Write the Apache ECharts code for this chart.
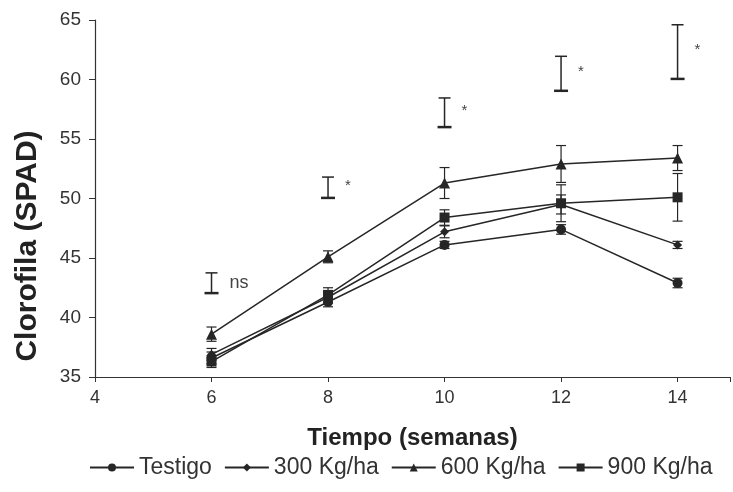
<!doctype html>
<html>
<head>
<meta charset="utf-8">
<title>Clorofila</title>
<script src="https://cdn.jsdelivr.net/npm/echarts@6/dist/echarts.min.js"></script>
<style>
  html, body { margin: 0; padding: 0; background: #fff; }
  #chart { width: 733px; height: 492px; }
</style>
</head>
<body>
<div id="chart"></div>
<script>
// semanas
var weeks = [6, 8, 10, 12, 14];
// valores SPAD por tratamiento
var testigo = [36.6, 41.3, 46.1, 47.4, 42.9];
var kg300 = [36.9, 41.7, 47.2, 49.5, 46.1];
var kg600 = [38.6, 45.1, 51.3, 52.9, 53.4];
var kg900 = [36.3, 41.9, 48.4, 49.6, 50.1];
// error estandar
var testigoErr = [0.5, 0.4, 0.3, 0.4, 0.4];
var kg300Err = [0.5, 0.5, 0.5, 0.8, 0.3];
var kg600Err = [0.6, 0.5, 1.3, 1.55, 1.05];
var kg900Err = [0.5, 0.6, 0.65, 1.55, 2.0];
// barras de diferencia significativa
var sigLow = [42.05, 50.05, 56.0, 59.05, 60.05];
var sigHigh = [43.75, 51.8, 58.45, 61.95, 64.6];
var sigLabels = ['ns', '*', '*', '*', '*'];

var names = ['Testigo', '300 Kg/ha', '600 Kg/ha', '900 Kg/ha'];
var symbols = ['circle', 'diamond', 'triangle', 'rect'];
var sizes = [10, 9, 11, 10];
var values = [testigo, kg300, kg600, kg900];
var errors = [testigoErr, kg300Err, kg600Err, kg900Err];
var ink = '#262626';

function pairs(v) {
  return weeks.map(function (w, i) { return [w, v[i]]; });
}

function errorItem(params, api) {
  var x = api.value(0), y = api.value(1), e = api.value(2);
  var top = api.coord([x, y + e]);
  var bot = api.coord([x, y - e]);
  var half = 5;
  var st = { stroke: ink, lineWidth: 1.2 };
  return {
    type: 'group',
    children: [
      { type: 'line', shape: { x1: top[0], y1: top[1], x2: bot[0], y2: bot[1] }, style: st },
      { type: 'line', shape: { x1: top[0] - half, y1: top[1], x2: top[0] + half, y2: top[1] }, style: st },
      { type: 'line', shape: { x1: bot[0] - half, y1: bot[1], x2: bot[0] + half, y2: bot[1] }, style: st }
    ]
  };
}

function sigItem(params, api) {
  var x = api.value(0);
  var top = api.coord([x, api.value(2)]);
  var bot = api.coord([x, api.value(1)]);
  var label = sigLabels[params.dataIndex];
  var mid = (top[1] + bot[1]) / 2;
  return {
    type: 'group',
    children: [
      { type: 'line', shape: { x1: top[0], y1: top[1], x2: bot[0], y2: bot[1] }, style: { stroke: ink, lineWidth: 1.5 } },
      { type: 'line', shape: { x1: top[0] - 6, y1: top[1], x2: top[0] + 6, y2: top[1] }, style: { stroke: ink, lineWidth: 1.5 } },
      { type: 'line', shape: { x1: bot[0] - 7, y1: bot[1], x2: bot[0] + 7, y2: bot[1] }, style: { stroke: ink, lineWidth: 2.5 } },
      {
        type: 'text',
        style: {
          text: label, x: top[0] + (label == 'ns' ? 18 : 17), y: mid + (label == 'ns' ? 0 : -2),
          fill: '#444', font: (label == 'ns' ? '18px' : '15px') + ' "Liberation Sans", Arial',
          verticalAlign: 'middle', align: 'left'
        }
      }
    ]
  };
}

var series = [];
for (var i = 0; i < 4; i++) {
  series.push({
    name: names[i],
    type: 'line',
    data: pairs(values[i]),
    symbol: symbols[i],
    symbolSize: sizes[i],
    itemStyle: { color: ink },
    lineStyle: { color: ink, width: 1.5 },
    z: 3
  });
  series.push({
    type: 'custom',
    renderItem: errorItem,
    data: weeks.map(function (w, j) { return [w, values[i][j], errors[i][j]]; }),
    z: 2,
    silent: true
  });
}
series.push({
  type: 'custom',
  renderItem: sigItem,
  data: weeks.map(function (w, j) { return [w, sigLow[j], sigHigh[j]]; }),
  clip: false,
  silent: true
});

var chart = echarts.init(document.getElementById('chart'));
chart.setOption({
  backgroundColor: '#fff',
  animation: false,
  textStyle: { fontFamily: '"Liberation Sans", Arial, sans-serif' },
  grid: { left: 95, right: 0, top: 20, bottom: 115 },
  graphic: [{
    type: 'text',
    x: 28, y: 246,
    rotation: Math.PI / 2,
    style: {
      text: 'Clorofila (SPAD)',
      font: 'bold 30px "Liberation Sans", Arial',
      fill: '#222',
      align: 'center',
      verticalAlign: 'middle'
    }
  }],
  legend: {
    data: names,
    bottom: 8,
    left: 84,
    itemWidth: 44,
    itemHeight: 10,
    itemGap: 12,
    textStyle: { fontSize: 23, color: '#333' }
  },
  xAxis: {
    type: 'value',
    min: 4,
    max: 14.9,
    interval: 2,
    name: 'Tiempo (semanas)',
    nameLocation: 'middle',
    nameGap: 49,
    nameTextStyle: { fontSize: 24, fontWeight: 'bold', color: '#222' },
    axisLine: { lineStyle: { color: '#333', width: 1.2 } },
    axisTick: { show: true, length: 5, lineStyle: { color: '#333' } },
    axisLabel: {
      fontSize: 18, color: '#333', margin: 12,
      formatter: function (v) { return v % 2 === 0 ? String(v) : ''; }
    },
    splitLine: { show: false }
  },
  yAxis: {
    type: 'value',
    min: 35,
    max: 65,
    interval: 5,
    axisLine: { show: true, lineStyle: { color: '#333', width: 1.2 } },
    axisTick: { show: true, length: 6, lineStyle: { color: '#333' } },
    axisLabel: { fontSize: 19, color: '#333', margin: 14 },
    splitLine: { show: false }
  },
  series: series
});
</script>
</body>
</html>
